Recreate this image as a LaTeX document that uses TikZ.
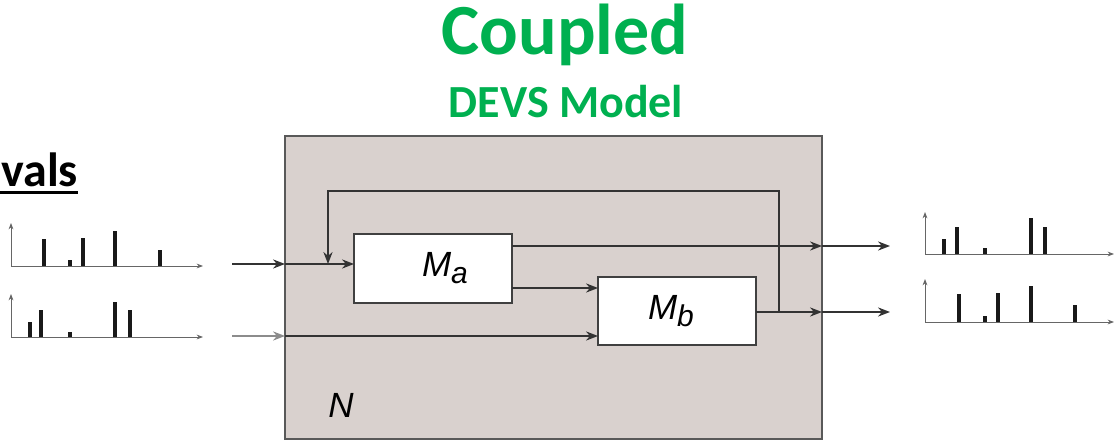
\documentclass[tikz,border=0pt]{standalone}
\usepackage{fontspec}
\setmainfont{Liberation Sans}
\newfontfamily\titlefont{Carlito}
\usepackage{xcolor}
\usetikzlibrary{positioning, arrows.meta}
\definecolor{devsgreen}{HTML}{00B050}
\definecolor{coupledfill}{HTML}{D9D1CE}
\definecolor{wire}{HTML}{333333}

\begin{document}
\begin{tikzpicture}[
    x=0.5pt, y=-0.5pt,
    coupled/.style={draw=black!65, line width=1.1pt, fill=coupledfill, minimum width=268.5pt, minimum height=151.5pt, inner sep=0pt},
    atomic/.style={draw=black!75, line width=0.8pt, fill=white, minimum width=79pt, minimum height=34.5pt, inner sep=0pt, font=\fontsize{17.5}{20}\selectfont\itshape},
    title/.style={text=devsgreen, font=\titlefont\bfseries, anchor=base, inner sep=0pt},
    link/.style={draw=wire, line width=0.7pt},
    port/.style={link, -{Stealth[length=6pt, width=4.6pt]}},
    axis/.style={draw=black!60, line width=0.45pt, -{Stealth[length=3.2pt, width=2.4pt]}},
    bar/.style={draw=black!90, line width=1.7pt}
]
\useasboundingbox (0,0) rectangle (1115,443);

% Titles
\node[title, font=\titlefont\bfseries\fontsize{36}{42}\selectfont] (coupled) at (565,55) {Coupled};
\node[title, font=\titlefont\bfseries\fontsize{23}{27}\selectfont] (devs) at (566,118) {DEVS Model};
\node[anchor=base west, inner sep=0pt, font=\titlefont\bfseries\fontsize{24}{28}\selectfont] (vals) at (1,187) {vals};
\draw[line width=1.5pt] (0,193) -- (vals.base east |- 0,193);

% Coupled model and components
\node[coupled] (N) at (553.5,287.5) {};
\node[font=\fontsize{17.5}{20}\selectfont\itshape] (nlabel) at (341,405) {N};
\node[atomic] (ma) at (433,268.5) {\hspace*{12pt}M\raisebox{-3.5pt}{\fontsize{15}{16}\selectfont a}};
\node[atomic, minimum height=34pt] (mb) at (677,311) {M\raisebox{-3.5pt}{\fontsize{15}{16}\selectfont b}\hspace*{6pt}};

% Ports
\coordinate (in1) at (232,264);
\coordinate (nin1) at (285,264);
\coordinate (fbin) at (328,264);
\coordinate (main) at (354,264);
\coordinate (in2) at (232,336);
\coordinate (nin2) at (285,336);
\coordinate (mbin2) at (598,336);
\coordinate (maout1) at (512,246);
\coordinate (nout1) at (822,246);
\coordinate (out1) at (890,246);
\coordinate (maout2) at (512,288);
\coordinate (mbin1) at (598,288);
\coordinate (mbout) at (756,312);
\coordinate (fbdown) at (779,312);
\coordinate (nout2) at (822,312);
\coordinate (out2) at (890,312);
\coordinate (fbtr) at (779,191);
\coordinate (fbtl) at (328,191);

% Couplings
\draw[port] (in1) -- (nin1);
\draw[port] (nin1) -- (main);
\draw[port, draw=black!45] (in2) -- (nin2);
\draw[port] (nin2) -- (mbin2);
\draw[port] (maout1) -- (nout1);
\draw[port] (nout1) -- (out1);
\draw[port] (maout2) -- (mbin1);
\draw[port] (mbout) -- (nout2);
\draw[port] (nout2) -- (out2);
\draw[port] (fbdown) -- (fbtr) -- (fbtl) -- (fbin);

% Input trajectories
\draw[axis] (11,266) -- (11,223);
\draw[axis] (11,266) -- (203,266);
\foreach \x/\h in {44/239, 70/260, 83/238, 115/231, 160/250}
    \draw[bar] (\x,266) -- (\x,\h);
\draw[axis] (11,337) -- (11,294);
\draw[axis] (11,337) -- (203,337);
\foreach \x/\h in {30/322, 41/310, 70/332, 115/302, 130/310}
    \draw[bar] (\x,337) -- (\x,\h);

% Output trajectories
\draw[axis] (925,254) -- (925,212);
\draw[axis] (925,254) -- (1114,254);
\foreach \x/\h in {944/239, 957/227, 985/248, 1031/218, 1045/227}
    \draw[bar] (\x,254) -- (\x,\h);
\draw[axis] (925,322) -- (925,279);
\draw[axis] (925,322) -- (1114,322);
\foreach \x/\h in {959/294, 985/316, 998/293, 1031/286, 1075/305}
    \draw[bar] (\x,322) -- (\x,\h);
\end{tikzpicture}
\end{document}
